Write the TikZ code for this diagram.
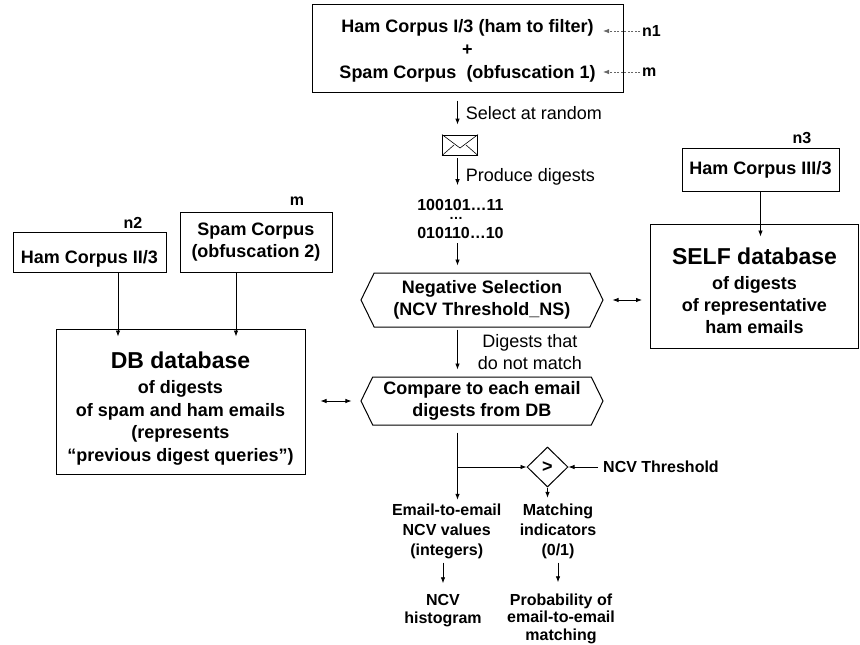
\documentclass[tikz,border=0pt]{standalone}
\usepackage{fontspec}
\setmainfont{Liberation Sans}
\usetikzlibrary{arrows.meta, positioning, calc, shapes.geometric, shapes.symbols}

\begin{document}
\begin{tikzpicture}[
    x=1pt, y=-1pt,
    txt/.style={font=\fontsize{18}{22}\selectfont\bfseries, align=center, inner sep=0pt},
    plain/.style={font=\fontsize{18}{22}\selectfont, align=center, inner sep=0pt},
    small/.style={font=\fontsize{16}{20}\selectfont\bfseries, align=center, inner sep=0pt},
    tight/.style={font=\fontsize{16}{17.5}\selectfont\bfseries, align=center, inner sep=0pt},
    corpus/.style={rectangle, draw, line width=1pt, txt},
    database/.style={rectangle, draw, line width=1pt, txt},
    stage/.style={signal, signal to=west and east, signal pointer angle=128, draw, line width=1pt, txt, minimum width=242pt},
    test/.style={diamond, draw, line width=1pt, inner sep=0pt, minimum width=41pt, minimum height=40pt, txt},
    arrow/.style={-{Latex[length=6pt, width=4.5pt]}, line width=0.8pt},
    twoway/.style={{Latex[length=6pt, width=4.5pt]}-{Latex[length=6pt, width=4.5pt]}, line width=0.8pt},
    weight/.style={arrow, black!60, dash pattern=on 2pt off 1.5pt}
    ]
    \useasboundingbox (0,0) rectangle (860,645);
    \coordinate (axis) at (457.5,0);

    % emails to filter
    \node[corpus, font=\fontsize{18}{23}\selectfont\bfseries, minimum width=311pt, minimum height=88pt] (mix) at (467.5,48)
        {\rule{0pt}{18.8pt}Ham Corpus I/3 (ham to filter)\\+\\Spam Corpus\ \ (obfuscation 1)};
    \node[small, anchor=west] (n1) at (642,31) {n1};
    \node[small, anchor=west] (m1) at (642,72) {m};
    \coordinate (in1) at (603,31);
    \coordinate (in2) at (603,72);
    \draw[weight, shorten <=2pt] (n1) -- (in1);
    \draw[weight, shorten <=2pt] (m1) -- (in2);

    % one email, its digests
    \node[draw, line width=0.8pt, minimum width=35pt, minimum height=20pt, inner sep=0pt] (mail) at (460,145) {};
    \draw[line width=0.6pt] (mail.north west) -- ($(mail.center)+(0,3)$) -- (mail.north east);
    \draw[line width=0.6pt] (mail.south west) -- ($(mail.center)+(-6,0)$);
    \draw[line width=0.6pt] (mail.south east) -- ($(mail.center)+(6,0)$);
    \draw[arrow, shorten <=8pt, shorten >=10pt] (mix.south -| axis) -- node[plain, right=8pt] {Select at random} (mail.north -| axis);

    \node[small] (bits1) at (460.5,205) {100101…11};
    \node[small, font=\fontsize{14}{16}\selectfont\bfseries] (dots) at (456,218) {…};
    \node[small] (bits2) at (460.5,232.7) {010110…10};
    \draw[arrow, shorten <=3pt, shorten >=14pt] (mail.south -| axis) -- node[plain, right=8pt] {Produce digests} (bits1.north -| axis);

    % negative selection against SELF
    \node[stage, minimum height=54pt] (neg) at (482,300) {Negative Selection\\(NCV Threshold\_NS)};
    \draw[arrow, shorten <=4.5pt, shorten >=7pt] (bits2.south -| axis) -- (neg.north -| axis);

    \node[corpus, minimum width=157pt, minimum height=43pt] (ham3) at (760.5,169.5) {Ham Corpus III/3};
    \node[small] (n3) at (802,138) {n3};
    \node[database, minimum width=208pt, minimum height=124pt] (self) at (754.5,286)
        {{\fontsize{23}{26}\selectfont\rule{0pt}{26.5pt}SELF database}\\[2.5pt]of digests\\of representative\\ham emails};
    \draw[arrow, shorten >=-13pt] (ham3.south) -- (ham3.south |- self.north);
    \draw[twoway, shorten <=9pt, shorten >=8pt] (neg.east) -- (neg.east -| self.west);

    % DB of previous queries
    \node[corpus, text height=22pt, text depth=0pt, minimum width=153pt, minimum height=40pt] (ham2) at (89.5,252) {Ham Corpus II/3};
    \node[small] (n2) at (133,223) {n2};
    \node[corpus, minimum width=152pt, minimum height=60pt] (spam) at (256,242) {Spam Corpus\\(obfuscation 2)};
    \node[small] (m2) at (297,201) {m};
    \node[database, font=\fontsize{18}{22.8}\selectfont\bfseries, minimum width=249pt, minimum height=145pt] (db) at (180.5,401.5)
        {{\fontsize{23}{26}\selectfont\rule{0pt}{30.6pt}DB database}\\[2.5pt]of digests\\of spam and ham emails\\(represents\\“previous digest queries”)};
    \draw[arrow, shorten >=-8pt] ([xshift=28.5pt]ham2.south) -- ([xshift=28.5pt]ham2.south |- db.north);
    \draw[arrow, shorten >=-8pt] ([xshift=-20pt]spam.south) -- ([xshift=-20pt]spam.south |- db.north);

    % comparison with DB
    \node[stage, minimum height=48pt] (cmp) at (482,401) {Compare to each email\\digests from DB};
    \draw[arrow, shorten <=2pt, shorten >=7pt] (neg.south -| axis) -- node[plain, right=20pt] {Digests that\\do not match} (cmp.north -| axis);
    \draw[twoway, shorten <=15pt, shorten >=9pt] (db.east |- cmp.west) -- (cmp.west);

    % outputs
    \coordinate (split) at (457.5,467);
    \node[test] (gt) at (547.5,467) {>};
    \node[small, anchor=west] (thr) at (603,467) {NCV Threshold};
    \node[small] (email) at (446.7,531.5) {Email-to-email\\NCV values\\(integers)};
    \node[small] (match) at (558,531.5) {Matching\\indicators\\(0/1)};
    \node[tight] (hist) at (443,610.5) {NCV\\histogram};
    \node[tight] (prob) at (561,618.5) {Probability of\\email-to-email\\matching};

    \draw[arrow, shorten <=7pt, shorten >=4pt] (cmp.south -| axis) -- (email.north -| axis);
    \draw[arrow] (split) -- (gt.west);
    \draw[arrow, shorten <=5pt] (thr.west) -- (gt.east);
    \draw[arrow, shorten >=6pt] (gt.south) -- (gt.south |- match.north);
    \draw[arrow, shorten <=3.5pt, shorten >=11pt] (hist.north |- email.south) -- (hist.north);
    \draw[arrow, shorten <=3.5pt, shorten >=11pt] (match.south) -- (match.south |- prob.north);
  \end{tikzpicture}
\end{document}
